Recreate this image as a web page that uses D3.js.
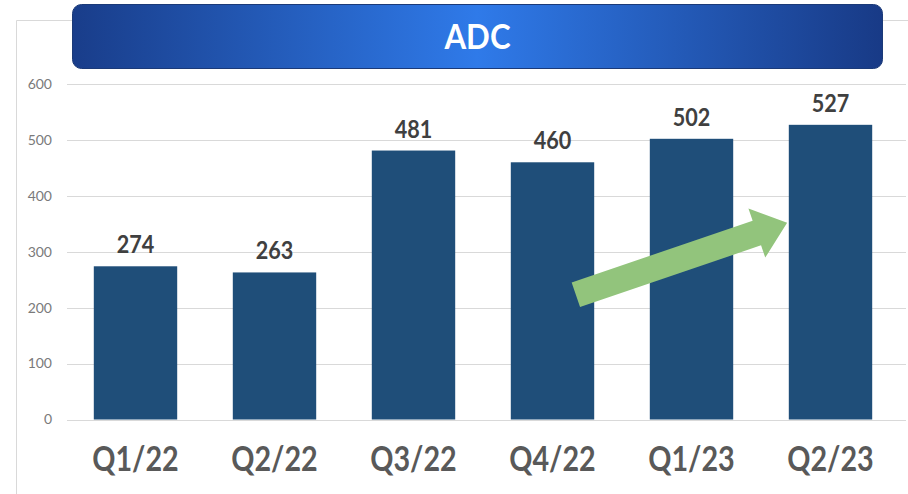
<!DOCTYPE html>
<html>
<head>
<meta charset="utf-8">
<script src="https://cdn.jsdelivr.net/npm/d3@7"></script>
<style>
  html, body { margin: 0; padding: 0; background: #fff; }
  svg { display: block; }
</style>
</head>
<body>
<svg id="chart" width="908" height="494"></svg>
<script>
const title = "ADC";
const categories = ["Q1/22", "Q2/22", "Q3/22", "Q4/22", "Q1/23", "Q2/23"];
const values = [274, 263, 481, 460, 502, 527];
const yTicks = [0, 100, 200, 300, 400, 500, 600];
// trend arrow annotation in data terms (category, fraction across band, value)
const arrowFrom = { cat: "Q4/22", frac: 0.78, value: 223 };
const arrowTo = { cat: "Q2/23", frac: -0.02, value: 352 };

const W = 908, H = 494;
const svg = d3.select("#chart");
const font = "Lato, 'Open Sans', sans-serif";

// frame lines
svg.append("line").attr("x1", 16.5).attr("x2", 16.5).attr("y1", 20.5).attr("y2", H)
  .attr("stroke", "#d9d9d9").attr("stroke-width", 1);
svg.append("line").attr("x1", 16.5).attr("x2", W).attr("y1", 20.5).attr("y2", 20.5)
  .attr("stroke", "#d9d9d9").attr("stroke-width", 1);

const x = d3.scaleBand().domain(categories).range([66, 900]).paddingInner(0.4).paddingOuter(0.2);
const y = d3.scaleLinear().domain([0, 600]).range([419.5, 84]);

// gridlines
svg.append("g").selectAll("line").data(yTicks).join("line")
  .attr("x1", 67).attr("x2", 906)
  .attr("y1", d => Math.round(y(d)) + 0.5).attr("y2", d => Math.round(y(d)) + 0.5)
  .attr("stroke", "#d9d9d9").attr("stroke-width", 1.2);

// y axis labels
svg.append("g").selectAll("text").data(yTicks).join("text")
  .attr("x", 52).attr("y", d => y(d)).attr("dy", "0.35em")
  .attr("text-anchor", "end")
  .attr("font-family", font).attr("font-size", 14)
  .attr("fill", "#7a7a7a")
  .text(d => d);

// bars
svg.append("g").selectAll("rect").data(values).join("rect")
  .attr("x", (d, i) => x(categories[i]))
  .attr("width", x.bandwidth())
  .attr("y", d => y(d))
  .attr("height", d => y(0) - y(d))
  .attr("fill", "#1f4e79");

// value labels
svg.append("g").selectAll("text").data(values).join("text")
  .attr("transform", (d, i) => `translate(${x(categories[i]) + x.bandwidth() / 2},${y(d) - 13}) scale(0.9,1)`)
  .attr("text-anchor", "middle")
  .attr("font-family", font).attr("font-weight", "bold").attr("font-size", 24)
  .attr("fill", "#404040")
  .text(d => d);

// category labels
svg.append("g").selectAll("text").data(categories).join("text")
  .attr("transform", d => `translate(${x(d) + x.bandwidth() / 2},471) scale(0.82,1)`)
  .attr("text-anchor", "middle")
  .attr("font-family", font).attr("font-weight", "bold").attr("font-size", 35)
  .attr("fill", "#595959")
  .text(d => d);

// trend arrow
const p0 = [x(arrowFrom.cat) + arrowFrom.frac * x.bandwidth(), y(arrowFrom.value)];
const p1 = [x(arrowTo.cat) + arrowTo.frac * x.bandwidth(), y(arrowTo.value)];
const dx = p1[0] - p0[0], dy = p1[1] - p0[1];
const L = Math.hypot(dx, dy);
const ux = dx / L, uy = dy / L, nx = -uy, ny = ux;
const shaftW = 13, headW = 26, headL = 32;
const hb = [p1[0] - ux * headL, p1[1] - uy * headL];
const pts = [
  [p0[0] + nx * shaftW, p0[1] + ny * shaftW],
  [hb[0] + nx * shaftW, hb[1] + ny * shaftW],
  [hb[0] + nx * headW, hb[1] + ny * headW],
  p1,
  [hb[0] - nx * headW, hb[1] - ny * headW],
  [hb[0] - nx * shaftW, hb[1] - ny * shaftW],
  [p0[0] - nx * shaftW, p0[1] - ny * shaftW]
];
svg.append("path").attr("d", d3.line()(pts) + "Z").attr("fill", "#92c47c");

// title banner
const defs = svg.append("defs");
const grad = defs.append("linearGradient").attr("id", "tg").attr("x1", "0%").attr("x2", "100%");
grad.append("stop").attr("offset", "0%").attr("stop-color", "#193d8a");
grad.append("stop").attr("offset", "50%").attr("stop-color", "#2f7ae9");
grad.append("stop").attr("offset", "100%").attr("stop-color", "#183a86");
svg.append("rect").attr("x", 72.5).attr("y", 4.5).attr("width", 810).attr("height", 64)
  .attr("rx", 9).attr("ry", 9)
  .attr("fill", "url(#tg)").attr("stroke", "#1b3a78").attr("stroke-width", 1);
svg.append("text").attr("transform", "translate(477.5,49) scale(0.92,1)")
  .attr("text-anchor", "middle")
  .attr("font-family", font).attr("font-weight", "bold").attr("font-size", 34)
  .attr("fill", "#ffffff")
  .text(title);
</script>
</body>
</html>
